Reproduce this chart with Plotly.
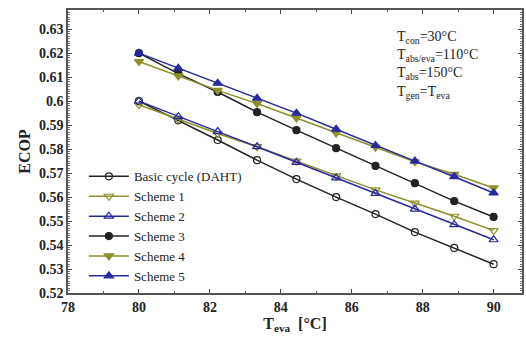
import plotly.graph_objects as go

t_eva = [80, 81.11, 82.22, 83.33, 84.44, 85.56, 86.67, 87.78, 88.89, 90]
basic = [0.600, 0.592, 0.5838, 0.5754, 0.5675, 0.560, 0.5529, 0.5454, 0.5388, 0.532]
scheme1 = [0.5985, 0.5925, 0.5865, 0.581, 0.575, 0.5688, 0.563, 0.5575, 0.552, 0.546]
scheme2 = [0.600, 0.5935, 0.5873, 0.581, 0.5745, 0.568, 0.5615, 0.555, 0.5485, 0.5422]
scheme3 = [0.620, 0.6115, 0.6038, 0.5954, 0.5879, 0.5804, 0.573, 0.5658, 0.5583, 0.5517]
scheme4 = [0.6165, 0.6105, 0.6045, 0.599, 0.593, 0.5867, 0.5808, 0.5747, 0.5695, 0.5638]
scheme5 = [0.620, 0.6137, 0.6075, 0.6012, 0.595, 0.5883, 0.5815, 0.575, 0.5685, 0.5617]

names = ["Basic cycle (DAHT)", "Scheme 1", "Scheme 2", "Scheme 3", "Scheme 4", "Scheme 5"]
series = [basic, scheme1, scheme2, scheme3, scheme4, scheme5]
black = "#222222"
olive = "#8f8f2a"
blue = "#2828a0"
styles = [
    (black, "circle-open", 7),
    (olive, "triangle-down-open", 8),
    (blue, "triangle-up-open", 8),
    (black, "circle", 7),
    (olive, "triangle-down", 8),
    (blue, "triangle-up", 8),
]

fig = go.Figure()
for name, ys, (col, sym, sz) in zip(names, series, styles):
    fig.add_trace(go.Scatter(
        x=t_eva, y=ys, name=name, mode="lines+markers",
        line=dict(color=col, width=1.5),
        marker=dict(symbol=sym, size=sz, color=col, line=dict(color=col, width=1.2)),
    ))

font_family = "Liberation Serif, Times New Roman, serif"
fig.update_layout(
    width=526, height=339,
    margin=dict(l=68, r=2, t=10, b=46),
    plot_bgcolor="white", paper_bgcolor="white",
    font=dict(family=font_family, size=13, color="#222"),
    showlegend=True,
    legend=dict(x=0.035, y=0.465, xanchor="left", yanchor="top",
                bgcolor="rgba(0,0,0,0)", font=dict(size=13, family=font_family),
                tracegroupgap=0, itemwidth=40),
    xaxis=dict(range=[78, 90.8], tickvals=[78, 80, 82, 84, 86, 88, 90],
               ticks="inside", ticklen=4, showline=True, linecolor="#555", linewidth=1.5,
               mirror="ticks", showgrid=False, zeroline=False,
               minor=dict(ticks="inside", ticklen=2, dtick=1, tickcolor="#555"),
               tickfont=dict(size=14, family=font_family, weight="bold"),
               title=dict(text="<b>T<sub>eva</sub>  [°C]</b>", font=dict(size=16), standoff=4)),
    yaxis=dict(range=[0.52, 0.638], tickvals=[0.52, 0.53, 0.54, 0.55, 0.56, 0.57, 0.58, 0.59, 0.6, 0.61, 0.62, 0.63],
               ticktext=["0.52", "0.53", "0.54", "0.55", "0.56", "0.57", "0.58", "0.59", "0.6", "0.61", "0.62", "0.63"],
               ticks="inside", ticklen=4, showline=True, linecolor="#555", linewidth=1.5,
               mirror="ticks", showgrid=False, zeroline=False,
               minor=dict(ticks="inside", ticklen=2, dtick=0.001, tickcolor="#777"),
               tickfont=dict(size=14, family=font_family, weight="bold"),
               title=dict(text="<b>ECOP</b>", font=dict(size=16), standoff=4)),
)

fig.add_annotation(
    x=0.72, y=0.94, xref="paper", yref="paper", xanchor="left", yanchor="top",
    showarrow=False, align="left",
    text="T<sub>con</sub>=30°C<br>T<sub>abs/eva</sub>=110°C<br>T<sub>abs</sub>=150°C<br>T<sub>gen</sub>=T<sub>eva</sub>",
    font=dict(size=14, family=font_family, color="#222"),
)

fig.write_html("out.html")
